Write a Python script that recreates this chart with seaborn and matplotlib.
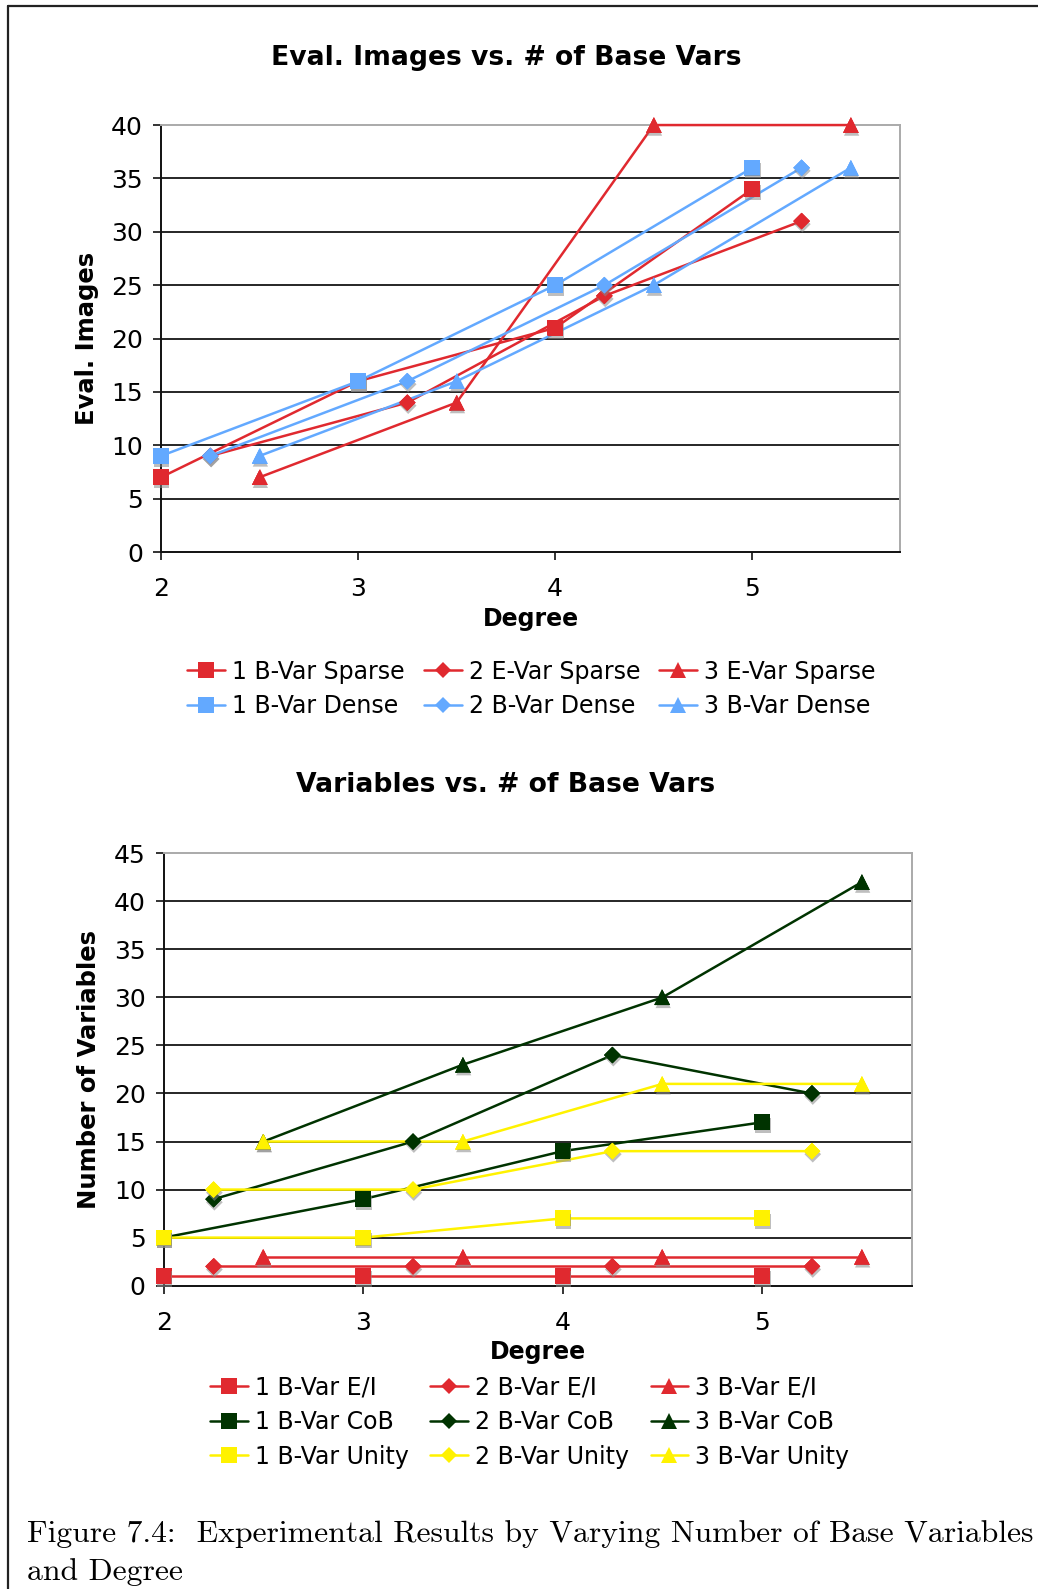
import numpy as np
import pandas as pd
import seaborn as sns
import matplotlib
matplotlib.use("Agg")
import matplotlib.pyplot as plt
import matplotlib.patheffects as pe
from matplotlib.lines import Line2D

# ---------------- data ----------------
# Top chart: evaluated images per degree (x offsets by number of base vars)
eval_x_1 = [2, 3, 4, 5]
eval_x_2 = [2.25, 3.25, 4.25, 5.25]
eval_x_3 = [2.5, 3.5, 4.5, 5.5]

sparse_1 = [7, 16, 21, 34]
sparse_2 = [9, 14, 24, 31]
sparse_3 = [7, 14, 40, 40]
dense_1 = [9, 16, 25, 36]
dense_2 = [9, 16, 25, 36]
dense_3 = [9, 16, 25, 36]

eval_labels = ["1 B-Var Sparse", "2 E-Var Sparse", "3 E-Var Sparse",
               "1 B-Var Dense", "2 B-Var Dense", "3 B-Var Dense"]

# Bottom chart: number of variables
ei_1 = [1, 1, 1, 1]
ei_2 = [2, 2, 2, 2]
ei_3 = [3, 3, 3, 3]
cob_1 = [5, 9, 14, 17]
cob_2 = [9, 15, 24, 20]
cob_3 = [15, 23, 30, 42]
unity_1 = [5, 5, 7, 7]
unity_2 = [10, 10, 14, 14]
unity_3 = [15, 15, 21, 21]

var_labels = ["1 B-Var E/I", "2 B-Var E/I", "3 B-Var E/I",
              "1 B-Var CoB", "2 B-Var CoB", "3 B-Var CoB",
              "1 B-Var Unity", "2 B-Var Unity", "3 B-Var Unity"]

x_ticks = [2, 3, 4, 5]
eval_yticks = list(range(0, 41, 5))
var_yticks = list(range(0, 46, 5))

caption = ("Figure 7.4:  Experimental Results by Varying Number of Base Variables\n"
           "and Degree")

# ---------------- style ----------------
sns.set_style("white")
plt.rcParams["font.family"] = ["DejaVu Sans"]
plt.rcParams["text.color"] = "black"
plt.rcParams["axes.labelcolor"] = "black"
plt.rcParams["xtick.color"] = "black"
plt.rcParams["ytick.color"] = "black"

RED = "#E0292F"
BLUE = "#63A9FF"
GREEN = "#003300"
YELLOW = "#FFF200"

MARKERS = {1: "s", 2: "D", 3: "^"}
MSIZE = {1: 11, 2: 8.5, 3: 11}

fig = plt.figure(figsize=(10.38, 15.89), dpi=100)

shadow = [pe.withSimplePatchShadow(offset=(0.6, -2.2), shadow_rgbFace="#8a8a8a", alpha=0.55),
          pe.Normal()]


def draw_series(ax, xs, ys, color, k, label):
    sns.lineplot(x=xs, y=ys, ax=ax, color=color, linewidth=1.8, marker=MARKERS[k],
                 markersize=MSIZE[k] * 1.0, markeredgewidth=0, label=label,
                 errorbar=None, sort=False, zorder=3, clip_on=False)
    sns.scatterplot(x=xs, y=ys, ax=ax, color=color, marker=MARKERS[k],
                    s=MSIZE[k] ** 2, linewidth=0, legend=False, zorder=4,
                    path_effects=shadow, clip_on=False)


def style_axes(ax, yticks, ymax, ylabel):
    ax.set_xlim(2, 5.75)
    ax.set_ylim(0, ymax)
    ax.set_xticks(x_ticks)
    ax.set_yticks(yticks)
    ax.set_xticklabels([str(t) for t in x_ticks])
    ax.set_yticklabels([str(t) for t in yticks])
    for y in yticks[1:-1]:
        ax.axhline(y, color="#262626", linewidth=1.4, zorder=1)
    for side in ("left", "bottom"):
        ax.spines[side].set_color("#111111")
        ax.spines[side].set_linewidth(1.4)
    for side in ("top", "right"):
        ax.spines[side].set_color("#aaaaaa")
        ax.spines[side].set_linewidth(1.4)
    ax.tick_params(axis="both", direction="out", length=6, width=1.2, color="#111111",
                   labelsize=18, left=True, bottom=True)
    ax.tick_params(axis="y", pad=7)
    ax.tick_params(axis="x", pad=12)
    ax.set_xlabel("Degree", fontsize=17, fontweight="bold", labelpad=4)
    ax.set_ylabel(ylabel, fontsize=17.5, fontweight="bold", labelpad=9)


legend_kw = dict(frameon=False, loc="center", bbox_transform=fig.transFigure, fontsize=17,
                 handlelength=1.6, handletextpad=0.3, labelspacing=0.45, markerscale=1.0)

# ---------------- top chart ----------------
ax1 = fig.add_axes([0.1551, 0.6526, 0.7120, 0.2687])
draw_series(ax1, eval_x_1, sparse_1, RED, 1, eval_labels[0])
draw_series(ax1, eval_x_2, sparse_2, RED, 2, eval_labels[1])
draw_series(ax1, eval_x_3, sparse_3, RED, 3, eval_labels[2])
draw_series(ax1, eval_x_1, dense_1, BLUE, 1, eval_labels[3])
draw_series(ax1, eval_x_2, dense_2, BLUE, 2, eval_labels[4])
draw_series(ax1, eval_x_3, dense_3, BLUE, 3, eval_labels[5])
style_axes(ax1, eval_yticks, 40, "Eval. Images")
fig.text(0.4875, 1 - 58 / 1589, "Eval. Images vs. # of Base Vars", ha="center", va="center",
         fontsize=19.2, fontweight="bold")

h, l = ax1.get_legend_handles_labels()
order = [0, 3, 1, 4, 2, 5]
ax1.legend([h[i] for i in order], [l[i] for i in order], ncol=3,
           bbox_to_anchor=(0.512, 1 - 689 / 1589), columnspacing=0.8, **legend_kw)

# ---------------- bottom chart ----------------
ax2 = fig.add_axes([0.1577, 0.1909, 0.7206, 0.2721])
draw_series(ax2, eval_x_1, ei_1, RED, 1, var_labels[0])
draw_series(ax2, eval_x_2, ei_2, RED, 2, var_labels[1])
draw_series(ax2, eval_x_3, ei_3, RED, 3, var_labels[2])
draw_series(ax2, eval_x_1, cob_1, GREEN, 1, var_labels[3])
draw_series(ax2, eval_x_2, cob_2, GREEN, 2, var_labels[4])
draw_series(ax2, eval_x_3, cob_3, GREEN, 3, var_labels[5])
draw_series(ax2, eval_x_1, unity_1, YELLOW, 1, var_labels[6])
draw_series(ax2, eval_x_2, unity_2, YELLOW, 2, var_labels[7])
draw_series(ax2, eval_x_3, unity_3, YELLOW, 3, var_labels[8])
style_axes(ax2, var_yticks, 45, "Number of Variables")
fig.text(0.4875, 1 - 785 / 1589, "Variables vs. # of Base Vars", ha="center", va="center",
         fontsize=19.2, fontweight="bold")

h, l = ax2.get_legend_handles_labels()
order = [0, 3, 6, 1, 4, 7, 2, 5, 8]
ax2.legend([h[i] for i in order], [l[i] for i in order], ncol=3,
           bbox_to_anchor=(0.5105, 1 - 1422 / 1589), columnspacing=0.9, **legend_kw)

# ---------------- frame and caption ----------------
fig.add_artist(Line2D([7.5 / 1038, 7.5 / 1038], [0, 1 - 6 / 1589], transform=fig.transFigure,
                      color="#222222", linewidth=1.6))
fig.add_artist(Line2D([7.5 / 1038, 1], [1 - 6 / 1589, 1 - 6 / 1589], transform=fig.transFigure,
                      color="#222222", linewidth=1.6))
fig.text(27 / 1038, 1 - 1553 / 1589, caption, ha="left", va="center", fontsize=22.8,
         family=["cmr10", "DejaVu Serif"], linespacing=1.45)

fig.savefig("out.png", dpi=100)
